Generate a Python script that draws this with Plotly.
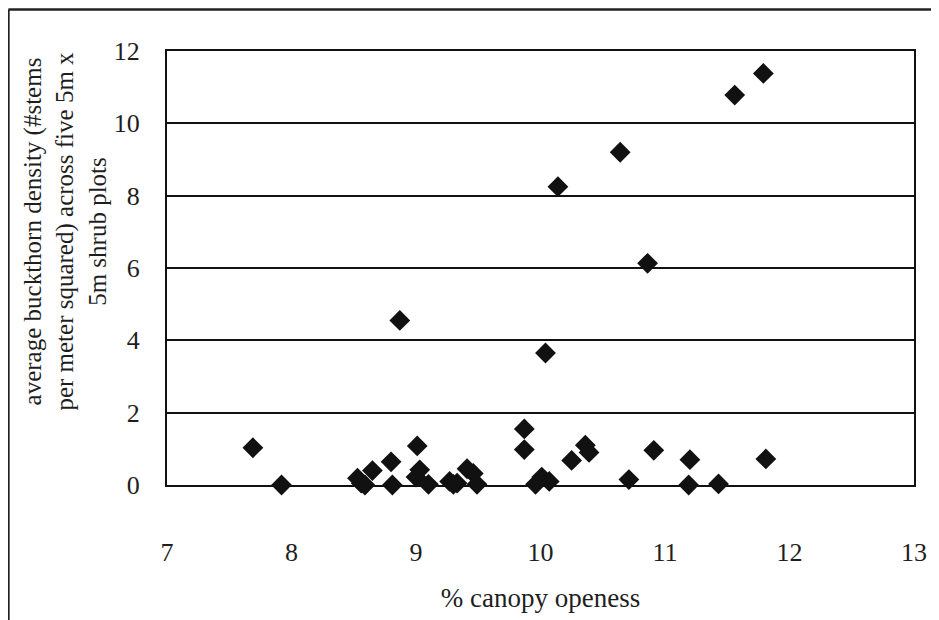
import plotly.graph_objects as go

# % canopy openness (x) and average buckthorn density (y)
canopy_openness = [
    7.69, 7.92, 8.53, 8.56, 8.59, 8.65, 8.80, 8.81, 8.87, 9.01,
    9.00, 9.03, 9.10, 9.27, 9.30, 9.33, 9.41, 9.46, 9.49, 9.87,
    9.87, 9.96, 10.01, 10.07, 10.04, 10.14, 10.25, 10.36, 10.39, 10.64,
    10.71, 10.86, 10.91, 11.19, 11.20, 11.43, 11.56, 11.79, 11.81,
]
buckthorn_density = [
    1.03, 0.00, 0.19, 0.05, 0.00, 0.40, 0.64, 0.00, 4.55, 1.08,
    0.22, 0.42, 0.02, 0.10, 0.02, 0.05, 0.45, 0.32, 0.02, 1.55,
    0.98, 0.02, 0.22, 0.10, 3.65, 8.25, 0.68, 1.10, 0.90, 9.20,
    0.15, 6.13, 0.96, 0.00, 0.70, 0.03, 10.78, 11.38, 0.72,
]

x_title = "% canopy openess"
y_title_lines = [
    "average buckthorn density (#stems",
    "per meter squared) across five 5m x",
    "5m shrub plots",
]

FONT = "Liberation Serif"
TXT = "#1e1e1e"

fig = go.Figure()
fig.add_trace(go.Scatter(
    x=canopy_openness,
    y=buckthorn_density,
    mode="markers",
    marker=dict(symbol="diamond", size=16, color="#111111", line=dict(width=0)),
    cliponaxis=False,
    showlegend=False,
))

# the page body adds an 8px offset; the figure is sized/positioned to compensate
OFF = 8
W, H = 939 - OFF, 620 - OFF
ml, mt = 167 - OFF, 51 - OFF
plot_right, plot_bottom = 916 - OFF, 489 - OFF
mr, mb = W - plot_right, H - plot_bottom

fig.update_layout(
    width=W, height=H,
    margin=dict(l=ml, r=mr, t=mt, b=mb),
    paper_bgcolor="white",
    plot_bgcolor="white",
    font=dict(family=FONT, size=25, color=TXT),
    xaxis=dict(
        range=[7, 13], dtick=1, tick0=7,
        showgrid=False, zeroline=False,
        showline=True, linecolor="#111111", linewidth=2, mirror=True,
        ticks="", ticklabelstandoff=43,
        tickfont=dict(family=FONT, size=26, color=TXT),
        title=dict(text=x_title, standoff=22, font=dict(family=FONT, size=27, color=TXT)),
    ),
    yaxis=dict(
        range=[0, 12], dtick=2, tick0=0,
        showgrid=True, gridcolor="#111111", gridwidth=1.5,
        zeroline=False,
        showline=True, linecolor="#111111", linewidth=2, mirror=True,
        ticks="", ticklabelstandoff=20,
        tickfont=dict(family=FONT, size=26, color=TXT),
    ),
)

plot_w = W - ml - mr
plot_h = H - mt - mb


def px_x(px):
    return (px - OFF - ml) / plot_w


def px_y(py):
    return (plot_bottom - (py - OFF)) / plot_h


fig.add_annotation(
    text="<br>".join(y_title_lines),
    xref="paper", yref="paper",
    x=px_x(65), y=px_y(233),
    xanchor="center", yanchor="middle",
    textangle=-90, showarrow=False,
    font=dict(family=FONT, size=25, color=TXT),
)

# outer frame (left and top edges visible in reference)
fig.add_shape(type="line", xref="paper", yref="paper",
              x0=px_x(8), x1=px_x(8), y0=px_y(9), y1=px_y(640),
              line=dict(color="#222222", width=2.5))
fig.add_shape(type="line", xref="paper", yref="paper",
              x0=px_x(8), x1=px_x(960), y0=px_y(9), y1=px_y(9),
              line=dict(color="#222222", width=2.5))

fig.write_html("out.html")
